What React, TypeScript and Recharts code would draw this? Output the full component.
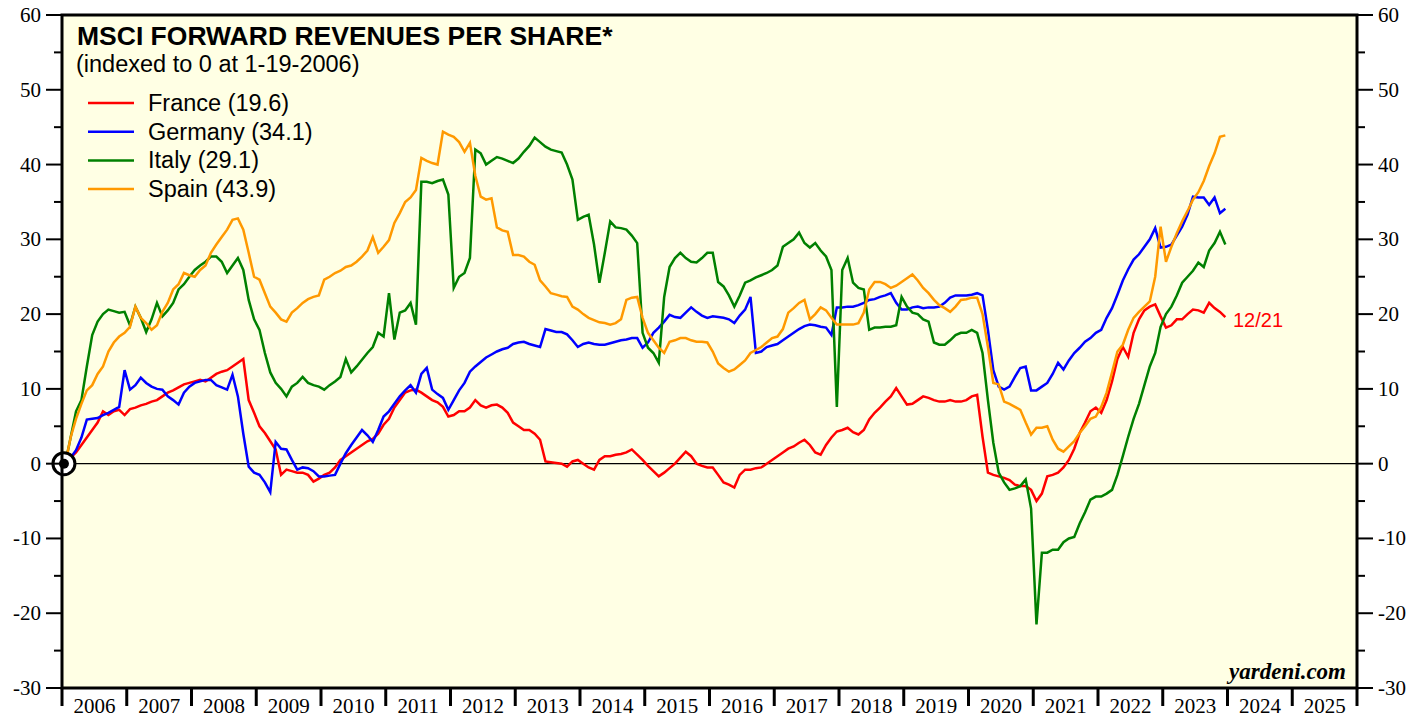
import { CartesianGrid, Line, LineChart, ReferenceDot, ReferenceLine, XAxis, YAxis } from "recharts";

// monthly points, first one is the index date (1-19-2006)
const START = 2006.05;

const france = [
  0, 0.8, 1.5, 2.5, 3.5, 4.5, 5.5, 7.0, 6.5, 7.0, 7.2, 6.5,
  7.3, 7.5, 7.8, 8.0, 8.3, 8.5, 9.0, 9.5, 9.8, 10.2, 10.6, 10.8,
  11.0, 11.2, 11.0, 11.5, 12.0, 12.3, 12.5, 13.0, 13.5, 14.0, 8.5, 6.8,
  5.0, 4.1, 3.0, 1.9, -1.5, -0.8, -1.0, -1.2, -1.2, -1.5, -2.4, -2.0,
  -1.5, -1.2, -0.5, 0.5, 1.0, 1.5, 2.0, 2.5, 3.0, 3.3, 4.0, 5.2,
  6.0, 7.5, 8.5, 9.5, 9.8, 9.9, 9.5, 9.0, 8.5, 8.2, 7.6, 6.3,
  6.5, 7.0, 7.0, 7.5, 8.5, 7.8, 7.5, 7.8, 7.9, 7.5, 6.8, 5.5,
  5.0, 4.5, 4.5, 4.0, 3.2, 0.3, 0.2, 0.1, 0.0, -0.4, 0.3, 0.5,
  0.0, -0.5, -0.8, 0.5, 1.0, 1.0, 1.2, 1.3, 1.5, 1.9, 1.2, 0.5,
  -0.3, -1.0, -1.7, -1.2, -0.6, 0.0, 0.8, 1.6, 1.0, 0.0, -0.3, -0.5,
  -0.5, -1.5, -2.5, -2.8, -3.2, -1.5, -0.8, -0.8, -0.6, -0.5, 0.0, 0.5,
  1.0, 1.5, 2.0, 2.3, 2.8, 3.2, 2.5, 1.5, 1.2, 2.5, 3.5, 4.3,
  4.5, 4.8, 4.2, 3.9, 4.5, 5.9, 6.8, 7.5, 8.3, 9.0, 10.1, 9.0,
  7.9, 8.0, 8.5, 9.0, 8.8, 8.5, 8.3, 8.3, 8.5, 8.3, 8.3, 8.5,
  9.0, 9.2, 3.6, -1.2, -1.5, -1.7, -1.9, -2.2, -2.8, -3.0, -3.0, -3.5,
  -5.0, -4.0, -1.7, -1.5, -1.2, -0.5, 0.5, 2.0, 4.1, 5.5, 7.0, 7.5,
  6.8, 8.5, 11.0, 14.0, 15.6, 14.3, 17.5, 19.3, 20.5, 21.0, 21.3, 19.7,
  18.2, 18.5, 19.3, 19.3, 20.0, 20.6, 20.5, 20.2, 21.5, 20.8, 20.3, 19.6,
];

const germany = [
  0, 0.8, 1.8, 3.5, 5.9, 6.0, 6.1, 6.5, 6.8, 7.2, 7.6, 12.5,
  9.9, 10.5, 11.5, 10.8, 10.3, 10.0, 9.9, 9.0, 8.5, 7.9, 9.5, 10.3,
  10.8, 11.0, 11.2, 11.2, 10.5, 10.2, 9.9, 11.9, 9.0, 4.0, -0.4, -1.2,
  -1.5, -2.5, -3.8, 2.9, 2.0, 1.9, 0.5, -0.8, -0.5, -0.6, -1.0, -1.7,
  -1.7, -1.6, -1.5, 0.0, 1.4, 2.5, 3.5, 4.5, 3.8, 2.9, 4.5, 6.3,
  7.0, 8.0, 9.0, 9.8, 10.5, 9.5, 12.0, 12.8, 9.9, 9.3, 8.8, 7.2,
  8.5, 9.8, 10.8, 12.3, 13.0, 13.6, 14.2, 14.6, 15.0, 15.3, 15.5, 16.0,
  16.2, 16.3, 16.0, 15.8, 15.6, 18.0, 17.8, 17.6, 17.6, 17.3, 16.5, 15.6,
  16.0, 16.2, 16.0, 15.9, 15.9, 16.1, 16.3, 16.5, 16.6, 16.8, 16.8, 15.5,
  16.2, 17.5, 18.2, 19.0, 19.9, 19.6, 19.5, 20.2, 20.9, 20.3, 19.8, 19.5,
  19.7, 19.6, 19.5, 19.3, 18.8, 19.8, 20.6, 22.3, 14.8, 15.0, 15.6, 15.8,
  16.0, 16.5, 17.0, 17.5, 18.0, 18.4, 18.6, 18.5, 18.3, 18.2, 17.2, 20.9,
  20.9, 21.0, 21.0, 21.2, 21.5, 21.9, 22.0, 22.3, 22.5, 22.8, 21.5, 20.6,
  20.6, 20.9, 21.0, 20.8, 20.9, 20.9, 21.0, 21.5, 22.2, 22.5, 22.5, 22.5,
  22.6, 22.8, 22.5, 17.9, 12.5, 10.3, 9.9, 10.3, 11.6, 12.8, 13.0, 9.8,
  9.8, 10.3, 10.8, 12.0, 13.5, 12.6, 13.8, 14.8, 15.5, 16.3, 16.8, 17.5,
  17.9, 19.5, 20.8, 22.6, 24.5, 26.0, 27.3, 28.0, 29.0, 30.0, 31.5, 28.9,
  29.0, 29.3, 30.5, 31.7, 33.3, 35.7, 35.6, 35.6, 34.6, 35.6, 33.5, 34.1,
];

const italy = [
  0, 3.5, 7.0, 8.5, 13.0, 17.2, 19.0, 20.0, 20.6, 20.4, 20.2, 20.3,
  18.5, 21.0, 19.5, 17.6, 19.3, 21.5, 19.7, 20.5, 21.5, 23.3, 24.0, 25.0,
  25.9, 26.5, 27.0, 27.7, 27.7, 27.0, 25.5, 26.5, 27.5, 25.9, 21.9, 19.3,
  17.9, 14.8, 12.2, 10.8, 10.0, 9.0, 10.3, 10.8, 11.6, 10.8, 10.5, 10.3,
  9.9, 10.5, 11.0, 11.6, 14.0, 12.2, 13.0, 13.9, 14.8, 15.6, 17.5, 17.0,
  22.8, 16.6, 20.2, 20.5, 21.5, 18.6, 37.7, 37.7, 37.5, 37.8, 38.0, 36.0,
  23.5, 25.0, 25.5, 27.5, 42.0, 41.5, 40.0, 40.5, 41.0, 40.8, 40.5, 40.2,
  40.8, 41.7, 42.5, 43.6, 43.0, 42.4, 42.0, 41.8, 41.6, 40.0, 38.0, 32.6,
  33.0, 33.3, 29.3, 24.2, 28.2, 32.4, 31.6, 31.5, 31.3, 30.5, 29.5, 17.5,
  15.5, 14.8, 13.5, 22.3, 26.3, 27.5, 28.2, 27.5, 27.0, 26.9, 27.5, 28.2,
  28.2, 24.3, 23.7, 22.5, 21.0, 22.5, 24.2, 24.5, 24.9, 25.2, 25.5, 25.9,
  26.5, 29.0, 29.5, 30.0, 30.9, 29.5, 28.9, 29.5, 28.5, 27.7, 25.9, 7.6,
  25.9, 27.5, 24.2, 23.5, 23.3, 17.9, 18.2, 18.2, 18.3, 18.3, 18.5, 22.3,
  21.0, 20.2, 20.0, 19.3, 19.0, 16.2, 15.9, 15.9, 16.5, 17.2, 17.5, 17.5,
  17.9, 17.5, 14.8, 8.5, 2.8, -1.2, -2.5, -3.5, -3.3, -3.0, -2.1, -6.0,
  -21.5, -11.9, -11.9, -11.5, -11.5, -10.5, -10.0, -9.8, -8.0, -6.5, -4.8, -4.4,
  -4.4, -4.0, -3.5, -1.5, 1.0, 3.6, 6.0, 8.0, 10.5, 13.0, 14.8, 18.3,
  20.0, 21.0, 22.5, 24.2, 25.0, 25.8, 26.9, 26.3, 28.5, 29.5, 31.0, 29.3,
];

const spain = [
  0, 3.5, 6.0, 8.0, 9.8, 10.5, 12.0, 13.0, 15.0, 16.2, 17.0, 17.5,
  18.3, 21.0, 19.5, 18.8, 17.9, 18.5, 20.3, 21.5, 23.3, 24.0, 25.5, 25.2,
  25.0, 25.9, 26.5, 28.2, 29.3, 30.3, 31.3, 32.6, 32.8, 31.3, 28.2, 25.0,
  24.6, 22.8, 21.0, 20.2, 19.3, 19.0, 20.2, 20.8, 21.5, 22.0, 22.3, 22.5,
  24.6, 25.0, 25.5, 25.8, 26.3, 26.5, 27.0, 27.7, 28.5, 30.3, 28.2, 29.0,
  29.9, 32.2, 33.5, 35.0, 35.6, 36.6, 40.9, 40.5, 40.2, 40.0, 44.4, 44.0,
  43.7, 43.0, 41.7, 42.9, 38.5, 35.7, 35.3, 35.5, 31.6, 31.2, 31.0, 27.9,
  27.9, 27.7, 27.0, 26.6, 24.5, 23.7, 22.8, 22.6, 22.4, 22.3, 21.0, 20.6,
  20.0, 19.5, 19.2, 18.9, 18.8, 18.6, 18.8, 19.3, 21.9, 22.2, 22.3, 19.5,
  17.5, 16.5, 15.5, 14.8, 16.3, 16.5, 16.8, 16.8, 16.5, 16.3, 16.3, 16.2,
  15.0, 13.4, 12.8, 12.3, 12.6, 13.2, 13.8, 14.8, 15.2, 15.6, 16.2, 16.8,
  17.0, 18.0, 20.2, 20.8, 21.5, 21.9, 19.3, 20.0, 20.9, 20.5, 19.5, 18.6,
  18.6, 18.6, 18.6, 18.8, 20.2, 23.3, 24.3, 24.3, 24.0, 23.5, 23.8, 24.3,
  24.8, 25.3, 24.5, 23.5, 22.8, 21.9, 21.2, 20.8, 20.3, 21.0, 21.9, 22.0,
  22.2, 22.2, 20.0, 15.6, 10.8, 10.6, 8.3, 8.0, 7.6, 7.2, 5.5, 3.9,
  4.8, 4.8, 5.0, 3.2, 2.0, 1.6, 2.3, 3.0, 4.1, 5.0, 6.0, 6.3,
  7.6, 9.5, 12.2, 15.0, 15.9, 17.9, 19.5, 20.3, 21.0, 21.7, 25.0, 31.7,
  27.0, 29.0, 30.8, 32.4, 33.8, 35.3, 36.3, 37.8, 39.8, 41.5, 43.7, 43.9,
];

const years = [2006, 2007, 2008, 2009, 2010, 2011, 2012, 2013, 2014, 2015, 2016, 2017, 2018, 2019, 2020, 2021, 2022, 2023, 2024, 2025, 2026];
const yTicks = [-30, -25, -20, -15, -10, -5, 0, 5, 10, 15, 20, 25, 30, 35, 40, 45, 50, 55, 60];

const series = [
  { key: "france", label: "France (19.6)", color: "#ff0000" },
  { key: "germany", label: "Germany (34.1)", color: "#0000ff" },
  { key: "italy", label: "Italy (29.1)", color: "#008000" },
  { key: "spain", label: "Spain (43.9)", color: "#ff9900" },
];

const data = france.map((v, i) => ({
  t: START + i / 12,
  france: v,
  germany: germany[i],
  italy: italy[i],
  spain: spain[i],
}));

const W = 1427;
const H = 719;
const LEFT = 62;
const RIGHT = 1357;
const TOP = 15;
const BOTTOM = 688;
const SERIF = "'Liberation Serif', 'Times New Roman', serif";
const SANS = "'Liberation Sans', Arial, sans-serif";

function LeftTick({ y, payload }: any) {
  const major = payload.value % 10 === 0;
  return (
    <g>
      <line x1={major ? 46 : 54} x2={LEFT} y1={y} y2={y} stroke="#000" strokeWidth={2} />
      {major && (
        <text x={41} y={y + 7} textAnchor="end" fontSize={21} fontFamily={SERIF} fill="#000">
          {payload.value}
        </text>
      )}
    </g>
  );
}

function RightTick({ y, payload }: any) {
  const major = payload.value % 10 === 0;
  return (
    <g>
      <line x1={RIGHT} x2={major ? RIGHT + 16 : RIGHT + 8} y1={y} y2={y} stroke="#000" strokeWidth={2} />
      {major && (
        <text x={RIGHT + 21} y={y + 7} textAnchor="start" fontSize={21} fontFamily={SERIF} fill="#000">
          {payload.value}
        </text>
      )}
    </g>
  );
}

function YearTick({ x, payload }: any) {
  const half = (RIGHT - LEFT) / 40;
  return (
    <g>
      <line x1={x} x2={x} y1={BOTTOM} y2={BOTTOM + 18} stroke="#000" strokeWidth={3} />
      {payload.value < 2026 && (
        <text x={x + half} y={713} textAnchor="middle" fontSize={21} fontFamily={SERIF} fill="#000">
          {payload.value}
        </text>
      )}
    </g>
  );
}

function Bullseye({ cx, cy }: any) {
  return (
    <g>
      <circle cx={cx} cy={cy} r={11} fill="#fff" stroke="#000" strokeWidth={3} />
      <circle cx={cx} cy={cy} r={5} fill="#000" />
    </g>
  );
}

export default function App() {
  return (
    <div style={{ position: "absolute", left: 0, top: 0, width: W, height: H, background: "#fff" }}>
      <LineChart width={W} height={H} data={data} margin={{ top: TOP, right: 0, bottom: 0, left: 0 }}>
        <CartesianGrid fill="#ffffe4" horizontal={false} vertical={false} />
        <XAxis
          dataKey="t"
          type="number"
          domain={[2006, 2026]}
          ticks={years}
          interval={0}
          height={H - BOTTOM}
          axisLine={false}
          tickLine={false}
          tick={<YearTick />}
        />
        <YAxis
          yAxisId="left"
          domain={[-30, 60]}
          ticks={yTicks}
          interval={0}
          width={LEFT}
          axisLine={false}
          tickLine={false}
          tick={<LeftTick />}
          allowDataOverflow
        />
        <YAxis
          yAxisId="right"
          orientation="right"
          domain={[-30, 60]}
          ticks={yTicks}
          interval={0}
          width={W - RIGHT}
          axisLine={false}
          tickLine={false}
          tick={<RightTick />}
          allowDataOverflow
        />
        <ReferenceLine yAxisId="left" y={0} stroke="#000" strokeWidth={1.2} />
        {series.map((s) => (
          <Line
            key={s.key}
            yAxisId="left"
            type="linear"
            dataKey={s.key}
            stroke={s.color}
            strokeWidth={2.5}
            dot={false}
            isAnimationActive={false}
          />
        ))}
        <ReferenceDot yAxisId="left" x={2006.03} y={0} ifOverflow="visible" shape={<Bullseye />} />
      </LineChart>
      <svg
        width={W}
        height={H}
        style={{ position: "absolute", left: 0, top: 0, pointerEvents: "none" }}
      >
        <rect x={LEFT} y={TOP} width={RIGHT - LEFT} height={BOTTOM - TOP} fill="none" stroke="#000" strokeWidth={3} />
        <text x={77} y={45} fontSize={26.5} fontWeight="bold" fontFamily={SANS} fill="#000">
          MSCI FORWARD REVENUES PER SHARE*
        </text>
        <text x={76} y={72} fontSize={23.5} fontFamily={SANS} fill="#000">
          (indexed to 0 at 1-19-2006)
        </text>
        {series.map((s, i) => {
          const y = 103 + i * 28.7;
          return (
            <g key={s.key}>
              <line x1={88} x2={134} y1={y} y2={y} stroke={s.color} strokeWidth={2.5} />
              <text x={148} y={y + 8} fontSize={23.5} fontFamily={SANS} fill="#000">
                {s.label}
              </text>
            </g>
          );
        })}
        <text x={1233} y={327} fontSize={20} fontFamily={SANS} fill="#ff0000">
          12/21
        </text>
        <text
          x={1346}
          y={679}
          textAnchor="end"
          fontSize={23}
          fontWeight="bold"
          fontStyle="italic"
          fontFamily={SERIF}
          fill="#000"
        >
          yardeni.com
        </text>
      </svg>
    </div>
  );
}
